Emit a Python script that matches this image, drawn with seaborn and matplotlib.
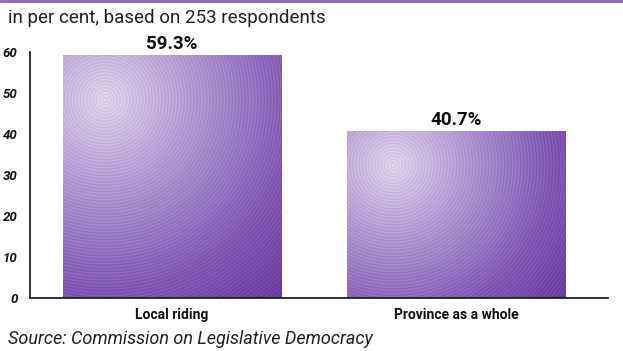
import numpy as np
import pandas as pd
import matplotlib
matplotlib.use("Agg")
import matplotlib.pyplot as plt
from matplotlib.colors import LinearSegmentedColormap
from matplotlib.lines import Line2D
import seaborn as sns

# Data
categories = ["Local riding", "Province as a whole"]
values = [59.3, 40.7]
value_labels = ["59.3%", "40.7%"]
y_ticks = [0, 10, 20, 30, 40, 50, 60]
subtitle = "in per cent, based on 253 respondents"
source = "Source: Commission on Legislative Democracy"

sns.set_theme(style="white")
plt.rcParams["font.family"] = ["Roboto", "DejaVu Sans"]

df = pd.DataFrame({"category": categories, "value": values})

W, H = 623, 351
fig = plt.figure(figsize=(W / 100, H / 100), dpi=100)
ax = fig.add_axes([30 / W, 53 / H, 578 / W, 246 / H])

sns.barplot(data=df, x="category", y="value", ax=ax, width=0.77,
            color="#8a64b8", saturation=1)

ax.set_ylim(0, 60)
ax.set_xlim(-0.5, 1.535)
ax.set_yticks(y_ticks)
ax.set_yticklabels([str(t) for t in y_ticks], fontweight="bold",
                   fontstyle="italic", fontsize=9.5)
ax.tick_params(axis="y", length=0, pad=9, colors="#111111")
ax.tick_params(axis="x", length=0, pad=7)
ax.set_xticks(range(len(categories)))
ax.set_xticklabels(categories, fontweight="bold", fontsize=10, color="#111111")
ax.set_xlabel("")
ax.set_ylabel("")
for side in ["top", "right"]:
    ax.spines[side].set_visible(False)
for side in ["left", "bottom"]:
    ax.spines[side].set_color("#111111")
    ax.spines[side].set_linewidth(1.2)

# Radial purple gradient with faint concentric rings inside each bar
cmap = LinearSegmentedColormap.from_list(
    "violet", [(0.0, "#ddd2ea"), (0.35, "#ae95d0"), (0.7, "#835bb6"), (1.0, "#693c9e")])
centers = [(0.19, 0.185), (0.21, 0.2)]  # fraction of width, fraction from top
for patch, (fx, fy) in zip(ax.patches, centers):
    x0, y0 = patch.get_x(), patch.get_y()
    w, h = patch.get_width(), patch.get_height()
    (px0, py0), (px1, py1) = ax.transData.transform([(x0, y0), (x0 + w, y0 + h)])
    nx, ny = int(abs(px1 - px0)) + 1, int(abs(py1 - py0)) + 1
    xx, yy = np.meshgrid(np.arange(nx), np.arange(ny))
    cx, cy = fx * nx, fy * ny
    d = np.hypot(xx - cx, yy - cy)
    corners = [np.hypot(a - cx, b - cy) for a in (0, nx) for b in (0, ny)]
    t = np.clip(d / max(corners), 0, 1)
    rgb = cmap(t)[..., :3]
    rings = 0.03 * np.sin(2 * np.pi * d / 3.2)
    rgb = np.clip(rgb + rings[..., None], 0, 1)
    im = ax.imshow(rgb, extent=(x0, x0 + w, y0, y0 + h), origin="upper",
                   aspect="auto", interpolation="bilinear", zorder=2)
    im.set_clip_path(patch)
    patch.set_facecolor("none")
    patch.set_edgecolor("none")

ax.set_ylim(0, 60)
ax.set_xlim(-0.5, 1.535)

for patch, lab in zip(ax.patches, value_labels):
    ax.annotate(lab, (patch.get_x() + patch.get_width() / 2, patch.get_height()),
                xytext=(0, 1.5), textcoords="offset points", ha="center", va="bottom",
                fontsize=13.5, fontweight="bold", color="#111111", zorder=3)

# Header rule, subtitle and source line
fig.add_artist(Line2D([0, 1], [1 - 1.2 / H, 1 - 1.2 / H], color="#8a63b0",
                      linewidth=2, transform=fig.transFigure))
fig.text(8 / W, 1 - 18 / H, subtitle, fontsize=13.5, color="#222222", va="center")
fig.text(8 / W, 1 - 339 / H, source, fontsize=13, fontstyle="italic",
         color="#222222", va="center")

fig.savefig("out.png", dpi=100)
